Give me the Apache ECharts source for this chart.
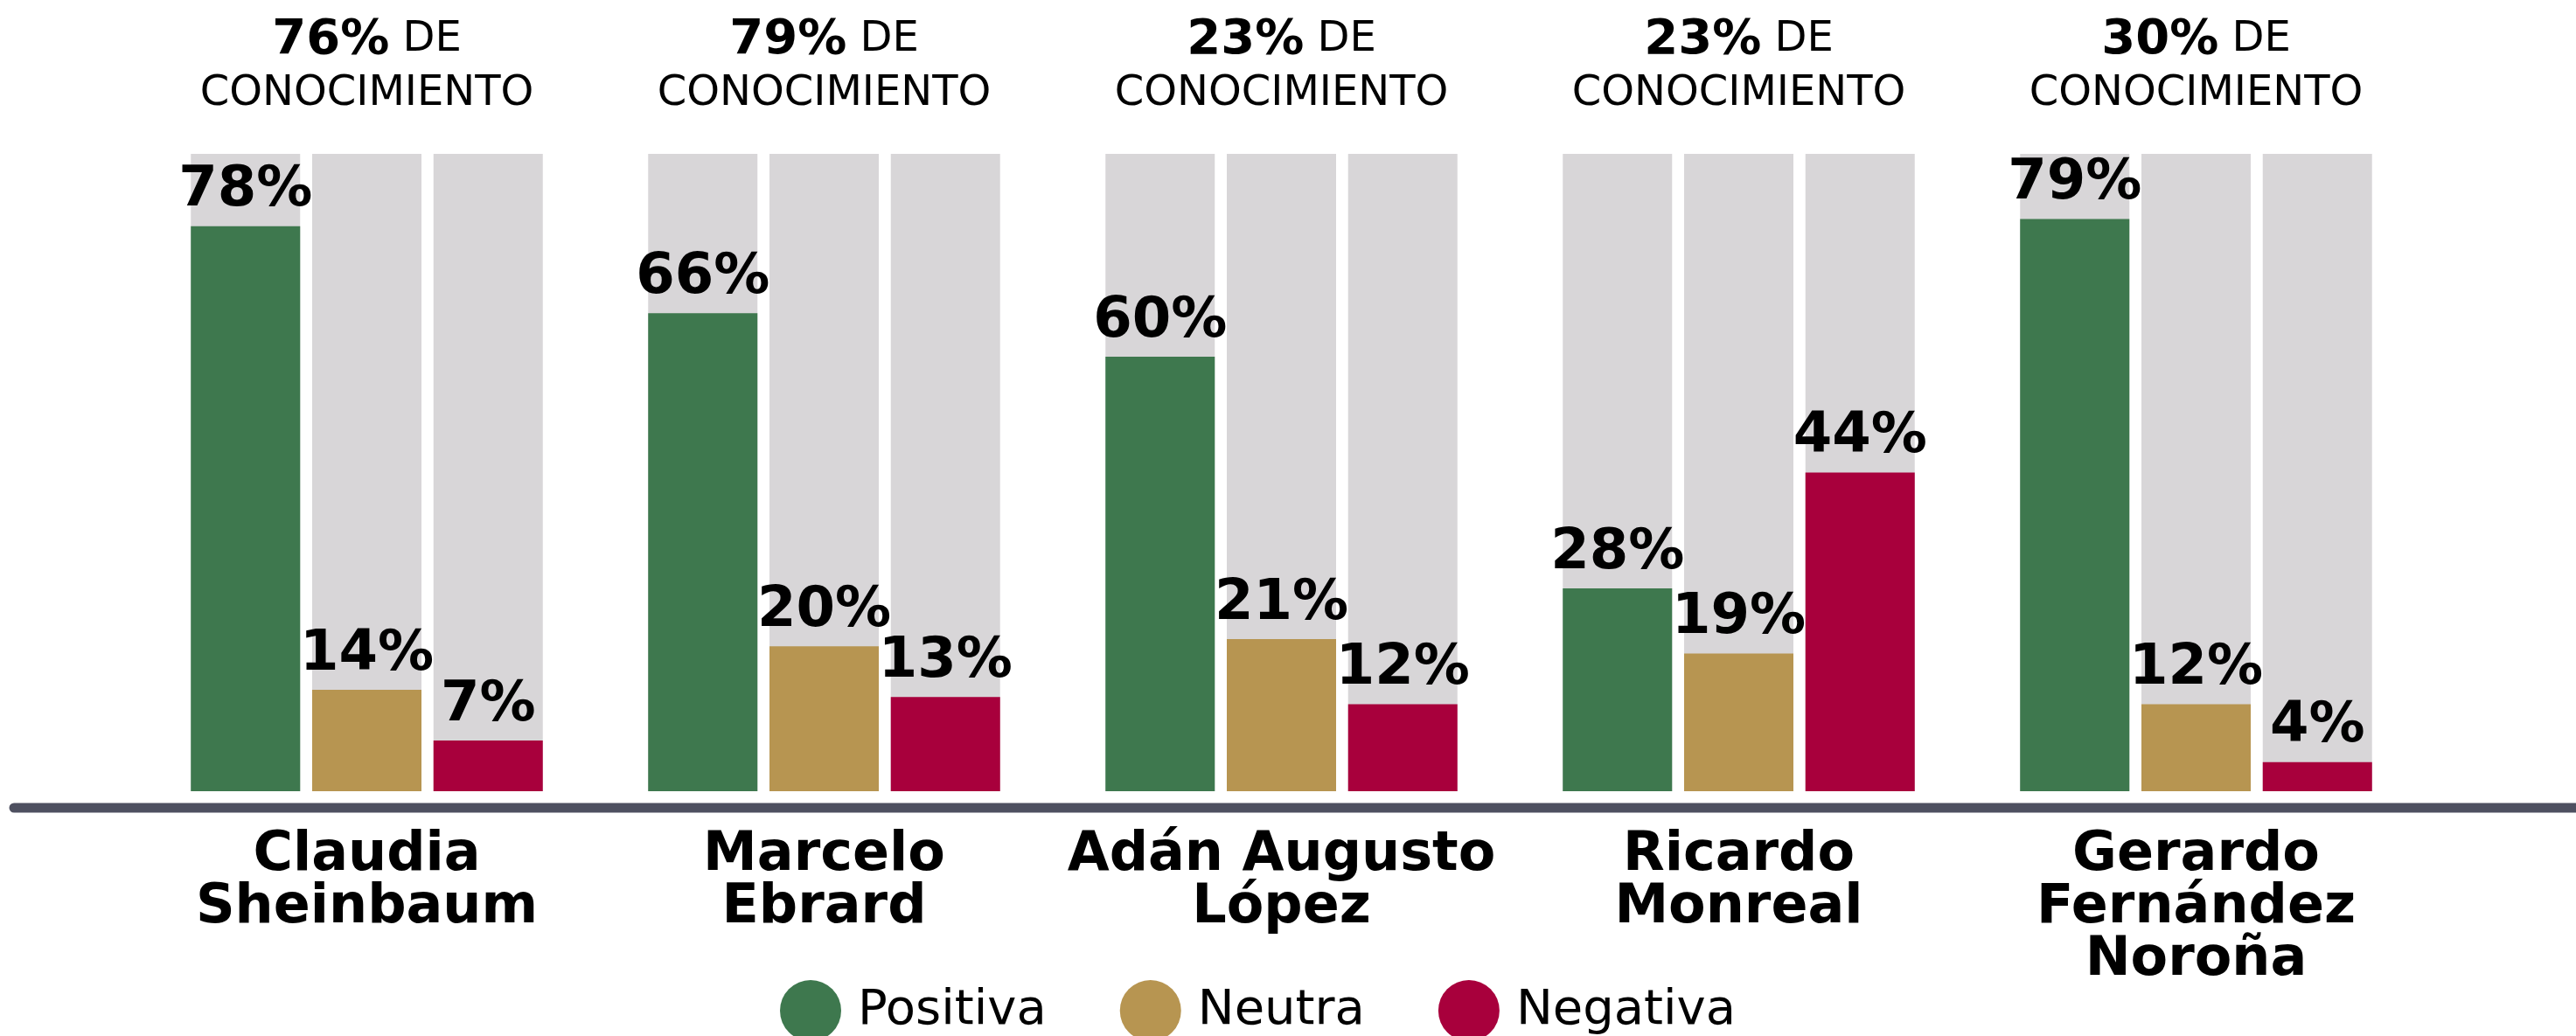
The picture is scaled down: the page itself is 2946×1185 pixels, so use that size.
<!DOCTYPE html>
<html>
<head>
<meta charset="utf-8">
<script src="https://cdn.jsdelivr.net/npm/echarts@6/dist/echarts.min.js"></script>
<style>
html,body{margin:0;padding:0;background:#ffffff;}
#chart{width:2946px;height:1185px;}
</style>
</head>
<body>
<div id="chart"></div>
<script>
var candidates = ['Claudia\nSheinbaum', 'Marcelo\nEbrard', 'Adán Augusto\nLópez', 'Ricardo\nMonreal', 'Gerardo\nFernández\nNoroña'];
var knowledge = [76, 79, 23, 23, 30];
var positiva = [78, 66, 60, 28, 79];
var neutra = [14, 20, 21, 19, 12];
var negativa = [7, 13, 12, 44, 4];
var seriesNames = ['Positiva', 'Neutra', 'Negativa'];
var colors = ['#3e784e', '#b79551', '#a8003c'];

var chart = echarts.init(document.getElementById('chart'), null, {renderer: 'canvas'});

function barSeries(name, data, color) {
  return {
    name: name,
    type: 'bar',
    data: data,
    barWidth: 125,
    barGap: '11%',
    itemStyle: {color: color},
    showBackground: true,
    backgroundStyle: {color: '#d8d6d8'},
    label: {
      show: true,
      position: 'top',
      distance: 8,
      formatter: '{c}%',
      color: '#000',
      fontFamily: 'DejaVu Sans',
      fontWeight: 'bold',
      fontSize: 64
    }
  };
}

chart.setOption({
  animation: false,
  backgroundColor: '#ffffff',
  grid: {left: 158, right: 173, top: 176, bottom: 280},
  legend: {
    left: 887,
    top: 1116,
    itemWidth: 70,
    itemHeight: 70,
    itemGap: 84,
    icon: 'circle',
    data: seriesNames,
    textStyle: {fontFamily: 'DejaVu Sans', fontSize: 56, color: '#000', padding: [0, 0, 0, 14]}
  },
  graphic: [
    {type: 'line', z: 10, shape: {x1: 16, y1: 924, x2: 2960, y2: 924}, style: {stroke: '#4e5060', lineWidth: 11, lineCap: 'round'}}
  ],
  xAxis: [
    {
      type: 'category',
      data: candidates,
      position: 'bottom',
      axisLine: {show: false},
      axisTick: {show: false},
      axisLabel: {
        margin: 44,
        color: '#000',
        fontFamily: 'DejaVu Sans',
        fontWeight: 'bold',
        fontSize: 62,
        lineHeight: 60,
        interval: 0
      }
    },
    {
      type: 'category',
      data: knowledge,
      position: 'top',
      axisLine: {show: false},
      axisTick: {show: false},
      axisLabel: {
        margin: 37,
        interval: 0,
        formatter: function (v) { return '{b|' + v + '%}{r| DE}\n{r|CONOCIMIENTO}'; },
        rich: {
          b: {fontFamily: 'DejaVu Sans', fontWeight: 'bold', fontSize: 56, color: '#000', lineHeight: 62},
          r: {fontFamily: 'DejaVu Sans', fontSize: 48, color: '#000', lineHeight: 62}
        }
      }
    }
  ],
  yAxis: {type: 'value', min: 0, max: 88, show: false, splitLine: {show: false}},
  series: [
    barSeries(seriesNames[0], positiva, colors[0]),
    barSeries(seriesNames[1], neutra, colors[1]),
    barSeries(seriesNames[2], negativa, colors[2])
  ]
});
</script>
</body>
</html>
